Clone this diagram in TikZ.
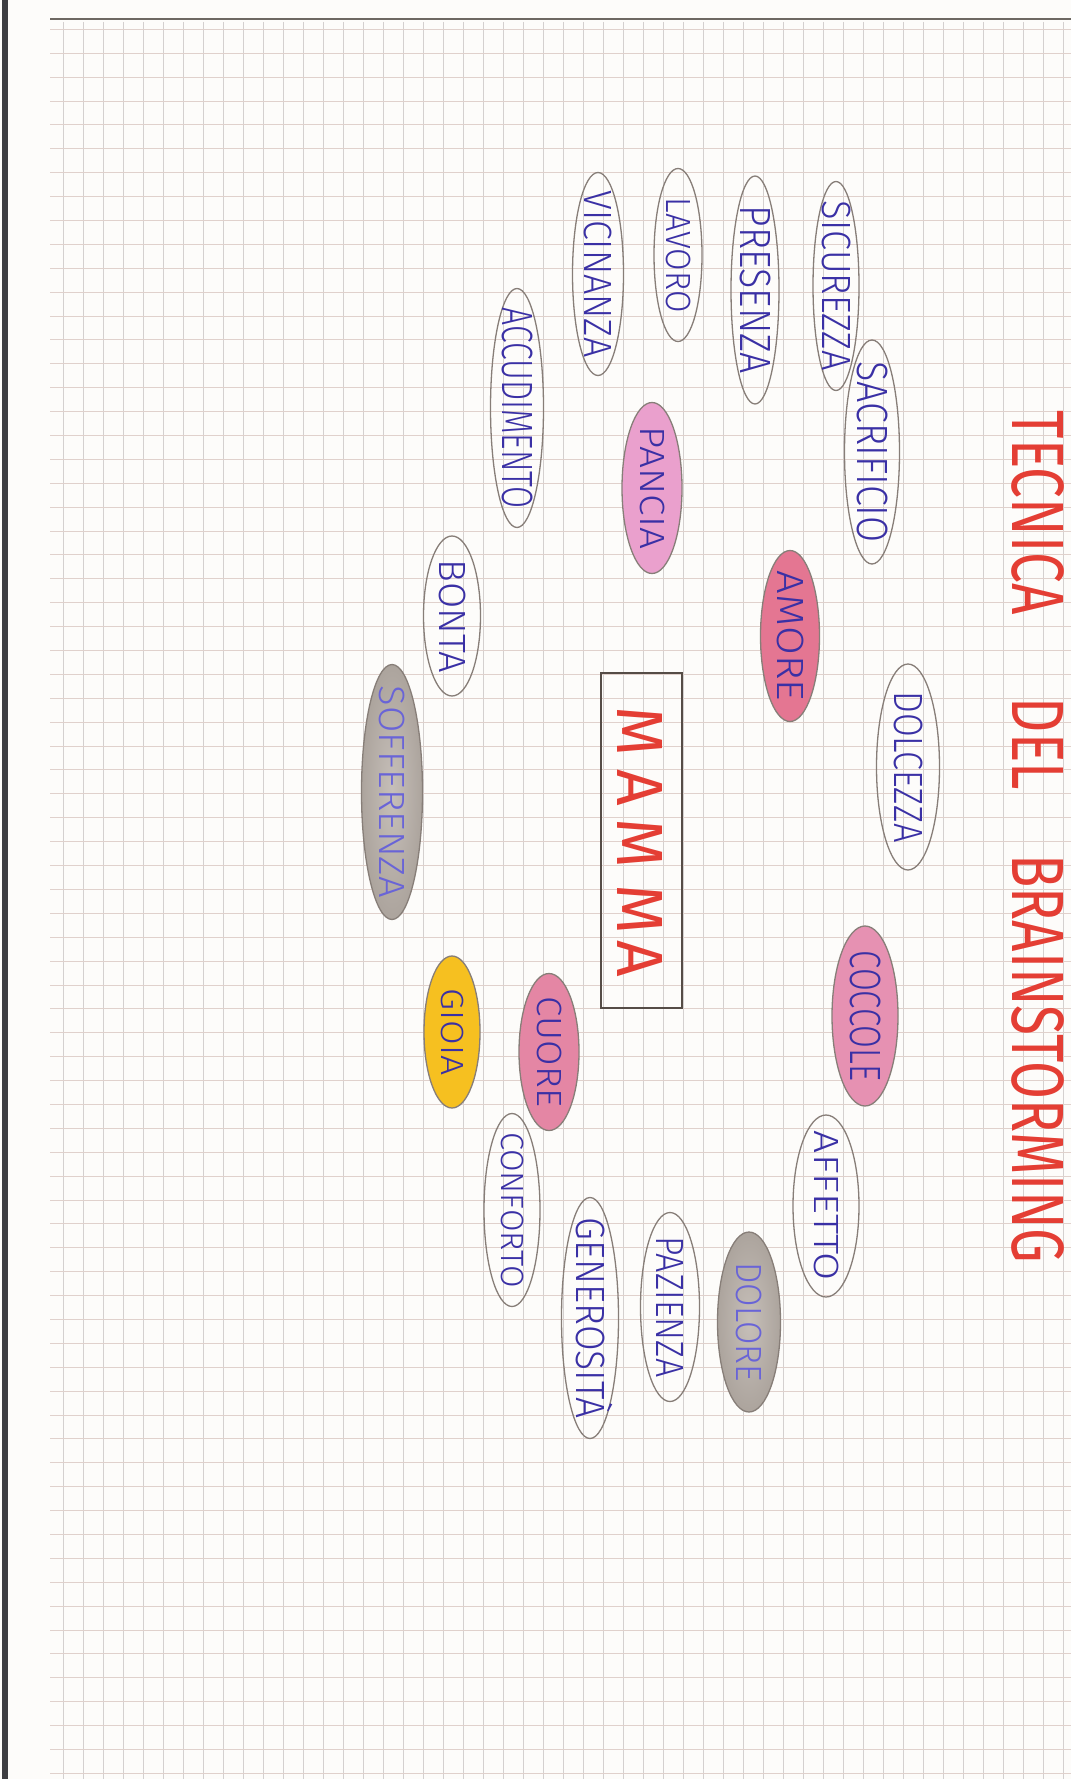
\documentclass[tikz,border=0pt]{standalone}
\usepackage{fontspec}
\setmainfont{Fira Sans Light}
\newfontfamily\marker{Fira Sans}
\usepackage{graphicx}
\usetikzlibrary{shapes.geometric}
\definecolor{paper}{RGB}{253,252,250}
\definecolor{gridv}{RGB}{212,208,207}
\definecolor{gridh}{RGB}{224,209,204}
\definecolor{pencil}{RGB}{135,126,120}
\definecolor{penblue}{RGB}{58,48,165}
\definecolor{paleblue}{RGB}{105,100,215}
\definecolor{redpen}{RGB}{228,62,52}
\definecolor{boxline}{RGB}{85,76,70}
\definecolor{pinkA}{RGB}{234,160,205}
\definecolor{pinkB}{RGB}{228,118,146}
\definecolor{pinkC}{RGB}{230,145,178}
\definecolor{pinkD}{RGB}{228,134,164}
\definecolor{yellowfill}{RGB}{246,192,32}
\definecolor{graypencil}{RGB}{172,164,157}
\definecolor{graylight}{RGB}{198,191,185}
\definecolor{edgebar}{RGB}{62,62,66}
\definecolor{topline}{RGB}{110,104,98}
\newcommand{\hw}[3]{\resizebox{#1pt}{#2pt}{\raisebox{0pt}[\fontcharht\font`\A][0pt]{#3}}}
\tikzset{
  bub/.style={ellipse, draw=pencil, line width=1.3pt, inner sep=0pt},
  grayfill/.style={inner color=graylight, outer color=graypencil},
  word/.style={rotate=-90, inner sep=0pt, text=penblue},
  gridlinev/.style={draw=gridv, line width=0.8pt},
  gridlineh/.style={draw=gridh, line width=0.8pt},
}
\begin{document}
\begin{tikzpicture}[x=1pt, y=-1pt]
\useasboundingbox (0,0) rectangle (1071,1779);
\fill[paper] (0,0) rectangle (1071,1779);
% squared paper
\foreach \i in {0,...,50} \draw[gridlinev] ({63.3+20*\i},22) -- ({63.3+20*\i},1779);
\foreach \j in {0,...,73} \draw[gridlineh] (50,{29.3+23.89*\j}) -- (1071,{29.3+23.89*\j});
\draw[topline, line width=1.6pt] (50,19) -- (1071,19);
\fill[edgebar] (2,0) rectangle (8,1779);

% title
\node[word, text=redpen, font=\marker] (title) at (1038,837)
  {\hw{852}{51}{TECNICA\hspace{15.2pt}DEL\hspace{11.7pt}BRAINSTORMING}};

% central box
\node[draw=boxline, line width=1.8pt, minimum width=81pt, minimum height=335pt, inner sep=0pt] (mamma) at (641.5,840.5) {};
\node[word, text=redpen, font=\marker] (mammatext) at (640,842)
  {\hw{270}{45}{M\hspace{2pt}A\hspace{2pt}M\hspace{2.5pt}M\hspace{1pt}A}};

% bubbles
\node[bub, minimum width=46pt, minimum height=209pt] (sicurezza) at (836,286) {};
\node[word] at (sicurezza.center) {\hw{170}{28}{SICUREZZA}};

\node[bub, minimum width=55pt, minimum height=224pt] (sacrificio) at (872,452) {};
\node[word] at (sacrificio.center) {\hw{181}{30}{SACRIFICIO}};

\node[bub, minimum width=48pt, minimum height=228pt] (presenza) at (755,290) {};
\node[word] at (presenza.center) {\hw{168}{30}{PRESENZA}};

\node[bub, minimum width=48pt, minimum height=173pt] (lavoro) at (678,255) {};
\node[word] at (lavoro.center) {\hw{115}{24}{LAVORO}};

\node[bub, minimum width=51pt, minimum height=203pt] (vicinanza) at (598,274) {};
\node[word] at (vicinanza.center) {\hw{167}{27}{VICINANZA}};

\node[bub, minimum width=53pt, minimum height=239pt] (accudimento) at (517,408) {};
\node[word] at (accudimento.center) {\hw{201}{30}{ACCUDIMENTO}};

\node[bub, fill=pinkA, minimum width=60pt, minimum height=171pt] (pancia) at (652,488) {};
\node[word] at (pancia.center) {\hw{122}{24}{PANCIA}};

\node[bub, fill=pinkB, minimum width=59pt, minimum height=171pt] (amore) at (790,636) {};
\node[word] at (amore.center) {\hw{130}{26}{AMORE}};

\node[bub, minimum width=57pt, minimum height=160pt] (bonta) at (452,616) {};
\node[word] at (bonta.center) {\hw{113}{26}{BONTA}};

\node[bub, minimum width=63pt, minimum height=206pt] (dolcezza) at (908,767) {};
\node[word] at (dolcezza.center) {\hw{151}{28}{DOLCEZZA}};

\node[bub, grayfill, minimum width=61pt, minimum height=255pt] (sofferenza) at (392,792) {};
\node[word, text=paleblue] at (sofferenza.center) {\hw{212}{25}{SOFFERENZA}};

\node[bub, fill=pinkC, minimum width=66pt, minimum height=180pt] (coccole) at (865,1016) {};
\node[word] at (coccole.center) {\hw{131}{30}{COCCOLE}};

\node[bub, fill=pinkD, minimum width=60pt, minimum height=157pt] (cuore) at (549,1052) {};
\node[word] at (cuore.center) {\hw{110}{24}{CUORE}};

\node[bub, fill=yellowfill, minimum width=56pt, minimum height=152pt] (gioia) at (452,1032) {};
\node[word] at (gioia.center) {\hw{87}{22}{GIOIA}};

\node[bub, minimum width=66pt, minimum height=182pt] (affetto) at (826,1206) {};
\node[word] at (affetto.center) {\hw{150}{24}{AFFETTO}};

\node[bub, minimum width=56pt, minimum height=193pt] (conforto) at (512,1210) {};
\node[word] at (conforto.center) {\hw{156}{22}{CONFORTO}};

\node[bub, grayfill, minimum width=63pt, minimum height=180pt] (dolore) at (749,1322) {};
\node[word, text=paleblue] at (dolore.center) {\hw{120}{25}{DOLORE}};

\node[bub, minimum width=59pt, minimum height=189pt] (pazienza) at (670,1307) {};
\node[word] at (pazienza.center) {\hw{141}{27}{PAZIENZA}};

\node[bub, minimum width=57pt, minimum height=241pt] (generosita) at (590,1318) {};
\node[word] at (generosita.center) {\hw{201}{28}{GENEROSITÀ}};
\end{tikzpicture}
\end{document}
